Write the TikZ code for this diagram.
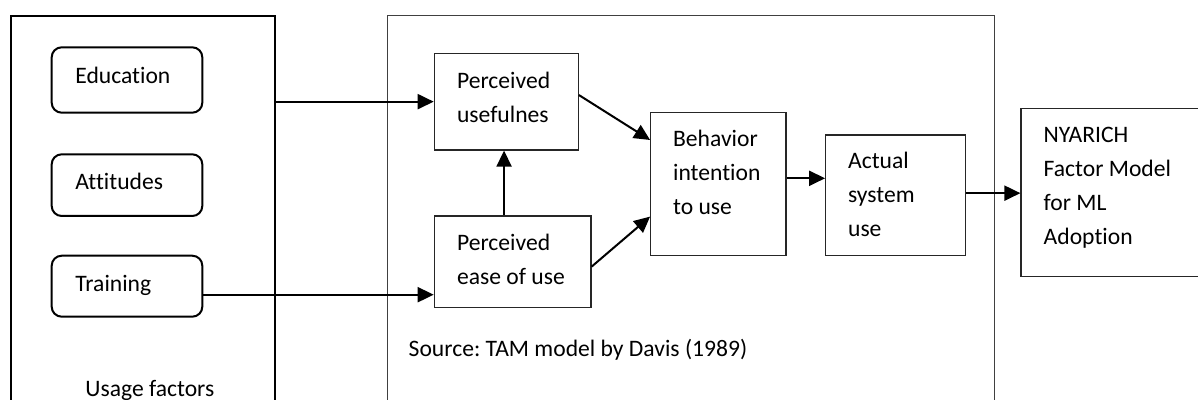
\documentclass[tikz,border=0pt]{standalone}
\usepackage{fontspec}
\setmainfont{Carlito}[Ligatures=NoCommon]
\usetikzlibrary{arrows.meta,fit,calc}
\frenchspacing
\tikzset{
  txt/.style={anchor=base west, inner sep=0pt, font=\fontsize{11.8pt}{17pt}\selectfont},
  rbox/.style={draw=black, line width=1pt, rounded corners=5pt, inner sep=0pt},
  sbox/.style={draw=black!85, line width=0.6pt, inner sep=0pt},
  arr/.style={line width=1pt, -{Triangle[length=8pt,width=7.5pt]}},
}
\newcommand{\ml}[1]{\parbox[t]{120pt}{\raggedright #1}}
\begin{document}
\begin{tikzpicture}[x=0.5pt,y=-0.5pt]
\useasboundingbox (0,0) rectangle (1198,400);
\clip (0,0) rectangle (1198,400);
% outer boxes
\node[draw=black, line width=1pt, inner sep=0pt, fit={(11,15.7) (275.3,420)}] (uf) {};
\node[draw=black!75, line width=0.5pt, inner sep=0pt, fit={(387.3,15.7) (994.3,420)}] (tam) {};
% usage factors
\node[rbox, fit={(51.7,47.3) (202.3,112.7)}] (edu) {};
\node[rbox, fit={(51.7,154.3) (202.3,216)}] (att) {};
\node[rbox, fit={(51.7,255.7) (202.3,316.7)}] (tr) {};
\node[txt] (edut) at (75,83.3) {Education};
\node[txt] (attt) at (75,190) {Attitudes};
\node[txt] (trt) at (75,291.7) {Training};
\node[txt] (uft) at (85,396.5) {Usage factors};
% TAM boxes
\node[sbox, fit={(434.3,53.3) (578.3,150)}] (pu) {};
\node[sbox, fit={(434.3,216) (591,307.7)}] (peou) {};
\node[sbox, fit={(650.7,112.7) (786,255.3)}] (bi) {};
\node[sbox, fit={(825.7,135) (965.7,255.3)}] (act) {};
\node[sbox, fit={(1021,108.3) (1210,276.7)}] (ny) {};
\node[txt] (put) at (456.7,88.3) {\ml{Perceived\\usefulnes}};
\node[txt] (peout) at (456.7,250.7) {\ml{Perceived\\ease of use}};
\node[txt] (bit) at (672.7,146.7) {\ml{Behavior\\intention\\to use}};
\node[txt] (actt) at (847.7,168.3) {\ml{Actual\\system\\use}};
\node[txt] (nyt) at (1043.3,142.7) {\ml{NYARICH\\Factor Model\\for ML\\Adoption}};
\node[txt] (src) at (408.3,356.7) {Source: TAM model by Davis (1989)};
% connectors
\draw[arr] (uf.east |- pu.west) -- (pu.west);
\draw[arr] ([yshift=-4.25pt]tr.east) -- ([yshift=-4.25pt]tr.east -| peou.west);
\draw[arr] ([xshift=-4.3pt]peou.north) -- ([xshift=-4.3pt]peou.north |- pu.south);
\draw[arr] ([yshift=3.3pt]pu.east) -- ([yshift=22pt]bi.west);
\draw[arr] ([yshift=-2.4pt]peou.east) -- ([yshift=-16.3pt]bi.west);
\draw[arr] ([yshift=2.85pt]bi.east) -- ([yshift=2.85pt]bi.east -| act.west);
\draw[arr] ([yshift=1pt]act.east) -- ([yshift=1pt]act.east -| ny.west);
\end{tikzpicture}
\end{document}
